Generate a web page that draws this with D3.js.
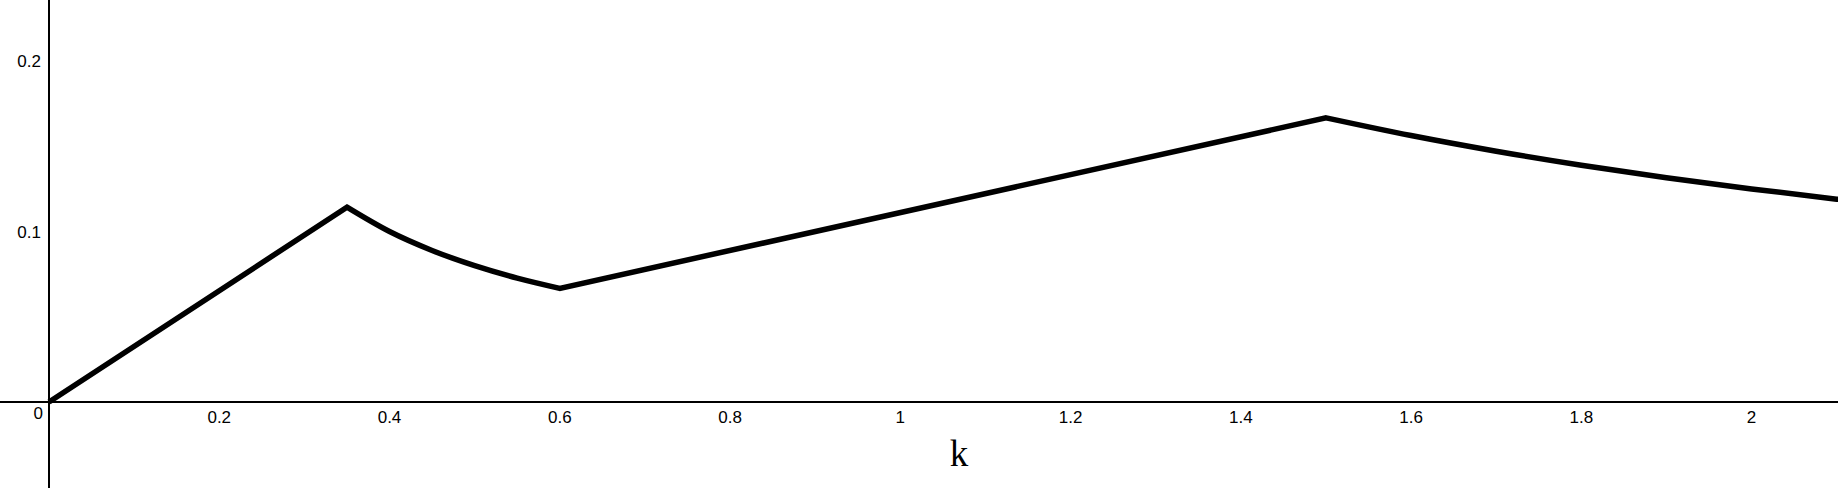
<!DOCTYPE html>
<html>
<head>
<meta charset="utf-8">
<script src="https://cdn.jsdelivr.net/npm/d3@7"></script>
<style>
  html, body { margin: 0; padding: 0; background: #fff; }
  svg { display: block; }
</style>
</head>
<body>
<svg id="chart" width="1838" height="488"></svg>
<script>
// Values
const kValues = [0, 0.35, 0.40, 0.45, 0.50, 0.55, 0.60, 1.50, 1.60, 1.70, 1.80, 1.90, 2.00, 2.10, 2.12];
const fValues = [0, 0.1143, 0.1000, 0.0889, 0.0800, 0.0727, 0.0667, 0.1667, 0.1563, 0.1471, 0.1389, 0.1316, 0.1250, 0.1190, 0.1179];
const xTicks = [0.2, 0.4, 0.6, 0.8, 1, 1.2, 1.4, 1.6, 1.8, 2];
const yTicks = [0.1, 0.2];
const xLabel = "k";

const W = 1838, H = 488;
const svg = d3.select("#chart");

const x = d3.scaleLinear().domain([-0.05756, 2.1015]).range([0, W]);
const y = d3.scaleLinear().domain([-0.0504, 0.2358]).range([H, 0]);

// axes lines
svg.append("line")
  .attr("x1", 0).attr("x2", W)
  .attr("y1", y(0)).attr("y2", y(0))
  .attr("stroke", "#000").attr("stroke-width", 2);
svg.append("line")
  .attr("x1", x(0)).attr("x2", x(0))
  .attr("y1", 0).attr("y2", H)
  .attr("stroke", "#000").attr("stroke-width", 2);

const fmt = d => String(+d.toFixed(2));

// x tick labels
svg.append("g").selectAll("text").data(xTicks).join("text")
  .attr("x", d => x(d))
  .attr("y", y(0) + 21)
  .attr("text-anchor", "middle")
  .attr("font-family", "Liberation Sans, Arial, sans-serif")
  .attr("font-size", 17)
  .attr("fill", "#000")
  .text(fmt);

// y tick labels
svg.append("g").selectAll("text").data(yTicks).join("text")
  .attr("x", x(0) - 8)
  .attr("y", d => y(d) + 6)
  .attr("text-anchor", "end")
  .attr("font-family", "Liberation Sans, Arial, sans-serif")
  .attr("font-size", 17)
  .attr("fill", "#000")
  .text(fmt);

// origin label
svg.append("text")
  .attr("x", x(0) - 6)
  .attr("y", y(0) + 17)
  .attr("text-anchor", "end")
  .attr("font-family", "Liberation Sans, Arial, sans-serif")
  .attr("font-size", 17)
  .attr("fill", "#000")
  .text("0");

// x axis title
svg.append("text")
  .attr("x", 959)
  .attr("y", 466)
  .attr("text-anchor", "middle")
  .attr("font-family", "Liberation Serif, Times New Roman, serif")
  .attr("font-size", 37)
  .attr("fill", "#000")
  .text(xLabel);

// curve: straight rises and smooth decreasing parts, joined into one path
const pts = kValues.map((k, i) => [k, fValues[i]]);
const smooth = d3.line().x(d => x(d[0])).y(d => y(d[1])).curve(d3.curveMonotoneX);
const lin = d3.line().x(d => x(d[0])).y(d => y(d[1]));
const parts = [
  lin(pts.slice(0, 2)),
  smooth(pts.slice(1, 7)),
  lin(pts.slice(6, 8)),
  smooth(pts.slice(7))
];
const d = parts.map((p, i) => i === 0 ? p : p.replace(/^M/, "L")).join("");
svg.append("path")
  .attr("d", d)
  .attr("fill", "none").attr("stroke", "#000")
  .attr("stroke-width", 5.5).attr("stroke-linejoin", "miter")
  .attr("stroke-miterlimit", 10).attr("stroke-linecap", "butt");
</script>
</body>
</html>
